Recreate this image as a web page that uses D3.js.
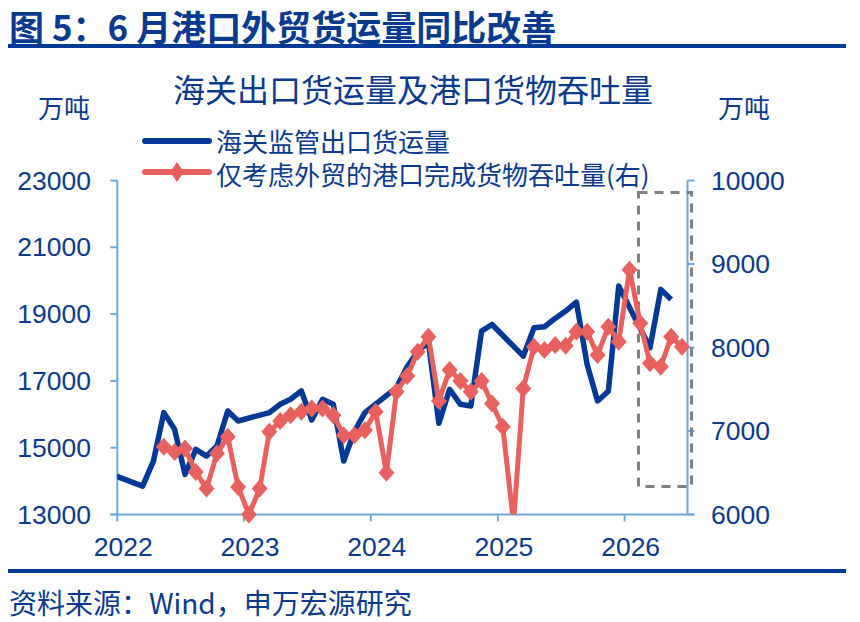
<!DOCTYPE html>
<html>
<head>
<meta charset="utf-8">
<script src="https://cdn.jsdelivr.net/npm/d3@7"></script>
<style>
html,body{margin:0;padding:0;background:#fff;}
svg{display:block;}
</style>
</head>
<body>
<div id="chart"></div>
<script>
// ---------- data ----------
const headerText = "图 5：6 月港口外贸货运量同比改善";
const chartTitle = "海关出口货运量及港口货物吞吐量";
const unitLabel = "万吨";
const seriesNames = ["海关监管出口货运量", "仅考虑外贸的港口完成货物吞吐量(右)"];
const sourceText = "资料来源：Wind，申万宏源研究";

const leftTicks = [13000, 15000, 17000, 19000, 21000, 23000];
const rightTicks = [6000, 7000, 8000, 9000, 10000];
const yearTicks = [2022, 2023, 2024, 2025, 2026];

// 海关监管出口货运量 (left axis, 万吨) — Jan/Feb not published separately
const blueMonths = [
  "2021-12",
  "2022-03","2022-04","2022-05","2022-06","2022-07","2022-08","2022-09","2022-10","2022-11","2022-12",
  "2023-03","2023-04","2023-05","2023-06","2023-07","2023-08","2023-09","2023-10","2023-11","2023-12",
  "2024-03","2024-04","2024-05","2024-06","2024-07","2024-08","2024-09","2024-10","2024-11","2024-12",
  "2025-03","2025-04","2025-05","2025-06","2025-07","2025-08","2025-09","2025-10","2025-11","2025-12",
  "2026-03","2026-04","2026-05"
];
const blueValues = [
  14200,
  13850,14600,16050,15550,14200,14950,14750,15050,16100,15800,
  16050,16300,16450,16700,15830,16450,16300,14600,15500,16050,
  16800,17430,17880,18150,15730,16750,16300,16250,18490,18690,
  17740,18590,18620,18870,19090,19360,17490,16400,16690,19840,
  17990,19740,19440
];

// 仅考虑外贸的港口完成货物吞吐量 (right axis, 万吨)
const redMonths = [
  "2022-05","2022-06","2022-07","2022-08","2022-09","2022-10","2022-11","2022-12",
  "2023-01","2023-02","2023-03","2023-04","2023-05","2023-06","2023-07","2023-08","2023-09","2023-10","2023-11","2023-12",
  "2024-01","2024-02","2024-03","2024-04","2024-05","2024-06","2024-07","2024-08","2024-09","2024-10","2024-11","2024-12",
  "2025-01","2025-02","2025-03","2025-04","2025-05","2025-06","2025-07","2025-08","2025-09","2025-10","2025-11","2025-12",
  "2026-01","2026-02","2026-03","2026-04","2026-05","2026-06"
];
const redValues = [
  6810,6750,6790,6510,6310,6730,6930,6330,
  6000,6310,6990,7120,7190,7230,7270,7270,7190,6950,6950,7010,
  7230,6500,7470,7660,7950,8130,7360,7730,7600,7470,7600,7330,
  7050,5900,7510,8010,7970,8030,8020,8190,8190,7910,8250,8070,
  8930,8290,7810,7770,8130,8010
];

// ---------- layout ----------
const W = 860, H = 622;
const plot = {left: 117.3, right: 687.5, top: 180.5, bottom: 514.5};
const navy = "#0a3a8e";
const lineBlue = "#033996";
const red = "#e8615f";
const axisColor = "#6fa7dc";
const cjk = "'Noto Sans CJK SC','Noto Sans',sans-serif";
const num = "'Liberation Sans',Arial,sans-serif";

const parse = d3.timeParse("%Y-%m");
const mid = s => { const d = parse(s); return new Date(d.getFullYear(), d.getMonth(), 15); };

const blueData = blueMonths.map((m, i) => ({date: mid(m), v: blueValues[i]}));
const redData = redMonths.map((m, i) => ({date: mid(m), v: redValues[i]}));

const x = d3.scaleTime()
  .domain([new Date(2022, 0, 1), new Date(2026, 6, 1)])
  .range([plot.left, plot.right]);
const yL = d3.scaleLinear().domain([13000, 23000]).range([plot.bottom, plot.top]);
const yR = d3.scaleLinear().domain([6000, 10000]).range([plot.bottom, plot.top]);

const svg = d3.select("#chart").append("svg")
  .attr("width", W).attr("height", H)
  .attr("viewBox", `0 0 ${W} ${H}`);

svg.append("rect").attr("width", W).attr("height", H).attr("fill", "#fff");

// header
svg.append("text")
  .attr("x", 9).attr("y", 25)
  .attr("dominant-baseline", "central")
  .attr("font-family", cjk).attr("font-size", 35).attr("font-weight", "bold")
  .attr("fill", navy)
  .text(headerText);
svg.append("rect").attr("x", 8).attr("y", 44).attr("width", 838).attr("height", 4).attr("fill", "#053a96");
svg.append("rect").attr("x", 8).attr("y", 569).attr("width", 838).attr("height", 4).attr("fill", "#053a96");

svg.append("text")
  .attr("x", 9).attr("y", 602)
  .attr("dominant-baseline", "central")
  .attr("font-family", cjk).attr("font-size", 28)
  .attr("fill", navy)
  .text(sourceText);

// chart title
svg.append("text")
  .attr("x", 413).attr("y", 88)
  .attr("text-anchor", "middle").attr("dominant-baseline", "central")
  .attr("font-family", cjk).attr("font-size", 32)
  .attr("fill", navy)
  .text(chartTitle);

// unit labels
svg.append("text").attr("x", 64).attr("y", 106)
  .attr("text-anchor", "middle").attr("dominant-baseline", "central")
  .attr("font-family", cjk).attr("font-size", 26).attr("fill", navy).text(unitLabel);
svg.append("text").attr("x", 744).attr("y", 106)
  .attr("text-anchor", "middle").attr("dominant-baseline", "central")
  .attr("font-family", cjk).attr("font-size", 26).attr("fill", navy).text(unitLabel);

// legend
const lg = svg.append("g");
lg.append("line").attr("x1", 145).attr("x2", 209).attr("y1", 141).attr("y2", 141)
  .attr("stroke", lineBlue).attr("stroke-width", 6).attr("stroke-linecap", "round");
lg.append("line").attr("x1", 145).attr("x2", 209).attr("y1", 172).attr("y2", 172)
  .attr("stroke", red).attr("stroke-width", 6).attr("stroke-linecap", "round");
lg.append("path").attr("d", "M177,162 L184,172 L177,182 L170,172 Z").attr("fill", red);
lg.append("text").attr("x", 216).attr("y", 140).attr("dominant-baseline", "central")
  .attr("font-family", cjk).attr("font-size", 26).attr("fill", navy).text(seriesNames[0]);
lg.append("text").attr("x", 216).attr("y", 173).attr("dominant-baseline", "central")
  .attr("font-family", cjk).attr("font-size", 26).attr("fill", navy).text(seriesNames[1]);

// axes
const ax = svg.append("g").attr("stroke", axisColor).attr("stroke-width", 2).attr("fill", "none");
ax.append("line").attr("x1", plot.left).attr("x2", plot.left).attr("y1", plot.top).attr("y2", plot.bottom);
ax.append("line").attr("x1", plot.right).attr("x2", plot.right).attr("y1", plot.top).attr("y2", plot.bottom);
ax.append("line").attr("x1", plot.left - 7).attr("x2", plot.right + 7).attr("y1", plot.bottom).attr("y2", plot.bottom);
leftTicks.forEach(t => {
  ax.append("line").attr("x1", plot.left - 7).attr("x2", plot.left).attr("y1", yL(t)).attr("y2", yL(t));
});
rightTicks.forEach(t => {
  ax.append("line").attr("x1", plot.right).attr("x2", plot.right + 7).attr("y1", yR(t)).attr("y2", yR(t));
});
yearTicks.forEach(yr => {
  const xx = x(new Date(yr, 0, 1));
  ax.append("line").attr("x1", xx).attr("x2", xx).attr("y1", plot.bottom).attr("y2", plot.bottom + 7);
});

// tick labels
leftTicks.forEach(t => {
  svg.append("text").attr("x", 91).attr("y", yL(t))
    .attr("text-anchor", "end").attr("dominant-baseline", "central")
    .attr("font-family", num).attr("font-size", 26.5).attr("fill", navy).text(t);
});
rightTicks.forEach(t => {
  svg.append("text").attr("x", 711).attr("y", yR(t))
    .attr("text-anchor", "start").attr("dominant-baseline", "central")
    .attr("font-family", num).attr("font-size", 26.5).attr("fill", navy).text(t);
});
yearTicks.forEach(yr => {
  svg.append("text").attr("x", x(new Date(yr, 0, 1)) + 6).attr("y", 547)
    .attr("text-anchor", "middle").attr("dominant-baseline", "central")
    .attr("font-family", num).attr("font-size", 26.5).attr("fill", navy).text(yr);
});

// clip
svg.append("clipPath").attr("id", "plotclip").append("rect")
  .attr("x", plot.left).attr("y", plot.top - 20)
  .attr("width", plot.right - plot.left + 10).attr("height", plot.bottom - plot.top + 20);

// dashed highlight box
svg.append("rect")
  .attr("x", 638.5).attr("y", 192.5).attr("width", 53).attr("height", 294)
  .attr("fill", "none").attr("stroke", "#808080").attr("stroke-width", 3)
  .attr("stroke-dasharray", "9,7");

// series
const lineL = d3.line().x(d => x(d.date)).y(d => yL(d.v));
const lineR = d3.line().x(d => x(d.date)).y(d => yR(d.v));

svg.append("path").datum(blueData)
  .attr("clip-path", "url(#plotclip)")
  .attr("d", lineL)
  .attr("fill", "none").attr("stroke", lineBlue).attr("stroke-width", 5.5)
  .attr("stroke-linejoin", "round").attr("stroke-linecap", "butt");

svg.append("path").datum(redData)
  .attr("clip-path", "url(#plotclip)")
  .attr("d", lineR)
  .attr("fill", "none").attr("stroke", red).attr("stroke-width", 5)
  .attr("stroke-linejoin", "round");

svg.append("g").selectAll("path")
  .data(redData.filter(d => d.v >= 6000))
  .join("path")
  .attr("transform", d => `translate(${x(d.date)},${yR(d.v)})`)
  .attr("d", "M0,-9 L8,0 L0,9 L-8,0 Z")
  .attr("fill", red);
</script>
</body>
</html>
